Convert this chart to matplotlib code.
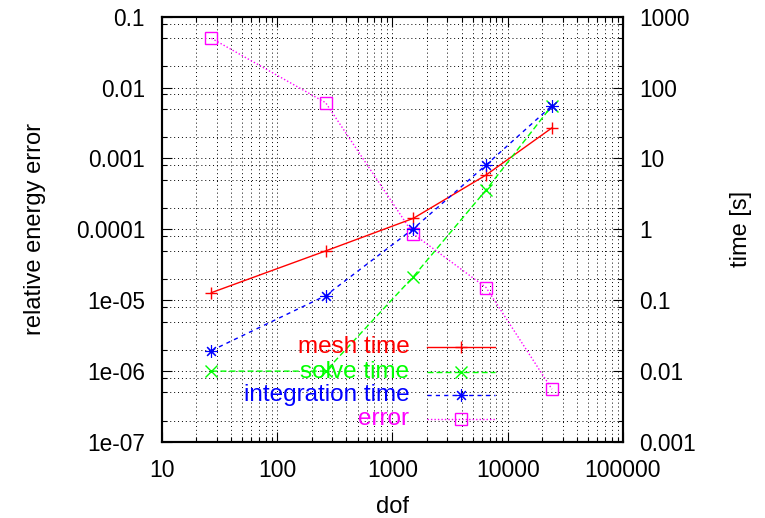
import matplotlib
matplotlib.use('Agg')
import matplotlib.pyplot as plt
from matplotlib.ticker import FixedLocator, NullFormatter
import numpy as np

plt.rcParams['font.family'] = ['Liberation Sans', 'DejaVu Sans']
plt.rcParams['font.size'] = 17

# data
dof = [27, 264, 1520, 6500, 24200]
err = [0.0496, 0.00612, 8.6e-5, 1.51e-5, 5.56e-7]
mesh_time = [0.128, 0.496, 1.43, 5.85, 27.0]
solve_time = [0.01, 0.01, 0.215, 3.6, 55.6]
integ_time = [0.0195, 0.116, 1.02, 8.1, 55.6]

xticks = [10, 100, 1000, 10000, 100000]
xlabels = ['10', '100', '1000', '10000', '100000']
yticks = [1e-7, 1e-6, 1e-5, 1e-4, 1e-3, 1e-2, 1e-1]
ylabels = ['1e-07', '1e-06', '1e-05', '0.0001', '0.001', '0.01', '0.1']
y2ticks = [1e-3, 1e-2, 1e-1, 1, 10, 100, 1000]
y2labels = ['0.001', '0.01', '0.1', '1', '10', '100', '1000']

leg_labels = ['mesh time', 'solve time', 'integration time', 'error']

fig = plt.figure(figsize=(7.65, 5.18), dpi=100)
ax = fig.add_axes([161.7/765, 1-442/518, 461.3/765, 425.3/518])
ax2 = ax.twinx()

ax.set_xscale('log')
ax.set_yscale('log')
ax2.set_yscale('log')
ax.set_xlim(10, 100000)
ax.set_ylim(1e-7, 0.1)
ax2.set_ylim(1e-3, 1000)

# ticks
ax.xaxis.set_major_locator(FixedLocator(xticks))
ax.set_xticklabels(xlabels, fontsize=16.5)
xminor = [m*10**e for e in range(1, 5) for m in range(2, 10)]
ax.xaxis.set_minor_locator(FixedLocator(xminor))
ax.xaxis.set_minor_formatter(NullFormatter())

ax.yaxis.set_major_locator(FixedLocator(yticks))
ax.set_yticklabels(ylabels, fontsize=16.3)
yminor = [m*10.0**e for e in range(-7, -1) for m in (2, 5, 8)]
ax.yaxis.set_minor_locator(FixedLocator(yminor))
ax.yaxis.set_minor_formatter(NullFormatter())

ax2.yaxis.set_major_locator(FixedLocator(y2ticks))
ax2.set_yticklabels(y2labels, fontsize=16.3)
y2minor = [m*10.0**e for e in range(-3, 3) for m in (2, 5, 8)]
ax2.yaxis.set_minor_locator(FixedLocator(y2minor))
ax2.yaxis.set_minor_formatter(NullFormatter())

ax.tick_params(axis='x', which='both', direction='in', top=True, bottom=True, pad=12.5, width=0.8)
ax.tick_params(axis='y', which='both', direction='in', left=True, right=False, pad=12, width=0.8)
ax2.tick_params(axis='y', which='both', direction='in', right=True, left=False, pad=11.5, width=0.8)
for a in (ax, ax2):
    a.tick_params(which='major', length=7.5)
    a.tick_params(which='minor', length=3.8)
    for s in a.spines.values():
        s.set_linewidth(1.5)

ax.grid(True, which='both', color='black', linestyle=(0, (1, 3)), linewidth=0.7)
ax.set_axisbelow(True)

# series
ax2.plot(dof, mesh_time, color='#ff0000', lw=1.0, marker='+', ms=8, mew=1.0)
ax2.plot(dof, solve_time, color='#00ff00', lw=1.0, dashes=(4.3, 2.2), marker='x', ms=8, mew=1.0)
ax2.plot(dof, integ_time, color='#0000ff', lw=1.0, dashes=(3, 3), marker=(8, 2, 0), ms=9, mew=0.8)
ax.plot(dof, err, color='#ff00ff', lw=1.0, dashes=(1, 1.5), marker='s', ms=8, mfc='none', mew=1.0)

# gnuplot style key
styles = [
    dict(color='#ff0000', lw=1.0, marker='+', ms=8, mew=1.0),
    dict(color='#00ff00', lw=1.0, dashes=(4.3, 2.2), marker='x', ms=8, mew=1.0),
    dict(color='#0000ff', lw=1.0, dashes=(3, 3), marker=(8, 2, 0), ms=9, mew=0.8),
    dict(color='#ff00ff', lw=1.0, dashes=(1, 1.5), marker='s', ms=8, mfc='none', mew=1.0),
]
rows = [0.2227, 0.1653, 0.1105, 0.0534]
for lab, st, yy in zip(leg_labels, styles, rows):
    ax2.text(0.537, yy, lab, transform=ax2.transAxes, ha='right', va='center',
             color=st['color'], fontsize=17.5)
    ln = {k: v for k, v in st.items() if k not in ('marker', 'ms', 'mew', 'mfc')}
    ax2.plot([0.5745, 0.7225], [yy, yy], transform=ax2.transAxes, **ln)
    mk = {k: v for k, v in st.items() if k in ('color', 'marker', 'ms', 'mew', 'mfc')}
    ax2.plot([0.6485], [yy], transform=ax2.transAxes, ls='none', **mk)

ax.set_xlabel('dof', labelpad=10)
ax.set_ylabel('relative energy error', labelpad=21)
ax2.set_ylabel('time [s]', rotation=90, labelpad=25)

fig.savefig('out.png', dpi=100)
